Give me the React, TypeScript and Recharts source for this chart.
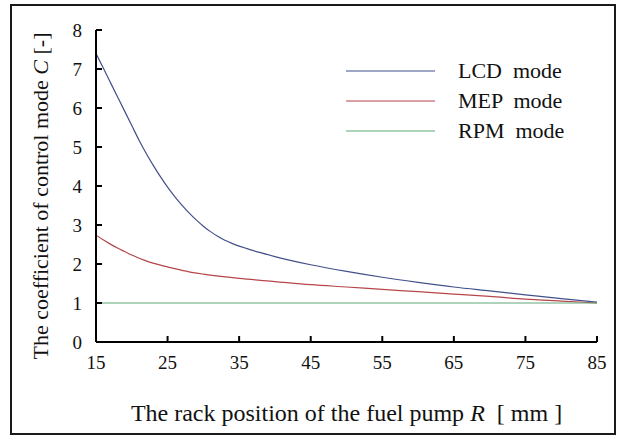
import { LineChart, Line, XAxis, YAxis, Legend } from 'recharts';

// rack position R [mm] and coefficient C
const lcdR = [15, 16, 17, 18, 19, 20, 21, 22, 23, 24, 25, 26, 27, 28, 29, 30, 31, 32, 33, 34, 35, 36, 38, 40, 42, 45, 50, 55, 60, 65, 70, 75, 80, 85];
const lcdC = [7.4, 7.03, 6.66, 6.29, 5.92, 5.55, 5.18, 4.84, 4.53, 4.24, 3.97, 3.73, 3.51, 3.31, 3.13, 2.97, 2.83, 2.71, 2.61, 2.53, 2.46, 2.4, 2.29, 2.19, 2.1, 1.98, 1.81, 1.66, 1.53, 1.41, 1.31, 1.21, 1.11, 1.02];

const mepR = [15, 16, 17, 18, 19, 20, 22, 24, 26, 28, 30, 35, 40, 45, 50, 55, 60, 65, 70, 75, 80, 85];
const mepC = [2.74, 2.62, 2.51, 2.41, 2.32, 2.23, 2.08, 1.97, 1.88, 1.8, 1.74, 1.63, 1.55, 1.47, 1.41, 1.35, 1.29, 1.23, 1.17, 1.1, 1.05, 1.0];

const rpmR = [15, 85];
const rpmC = [1, 1];

const xTicks = [15, 25, 35, 45, 55, 65, 75, 85];
const yTicks = [0, 1, 2, 3, 4, 5, 6, 7, 8];

const toRows = (xs: number[], ys: number[]) => xs.map((x, i) => ({ x, c: ys[i] }));

const FONT = '"Liberation Serif", "Times New Roman", serif';

const YTick = (props: any) => {
  const { x, y, payload } = props;
  return (
    <g>
      <line x1={x + 14} x2={x + 20} y1={y} y2={y} stroke="#000" strokeWidth={2} />
      <text x={x} y={y} dy="0.35em" textAnchor="end" fontSize={19} fontFamily={FONT} fill="#111">
        {payload.value}
      </text>
    </g>
  );
};

const XTick = (props: any) => {
  const { x, y, payload } = props;
  return (
    <g>
      <line x1={x} x2={x} y1={y - 12} y2={y - 18} stroke="#000" strokeWidth={2} />
      <text x={x} y={y + 15} textAnchor="middle" fontSize={19} fontFamily={FONT} fill="#111">
        {payload.value}
      </text>
    </g>
  );
};

const YTitle = (props: any) => {
  const vb = props.viewBox;
  const cx = vb.x + 4;
  const cy = vb.y + vb.height / 2 + 10;
  return (
    <text x={cx} y={cy} transform={`rotate(-90 ${cx} ${cy})`} textAnchor="middle" dy="0.35em"
      fontSize={22} fontFamily={FONT} fill="#111" style={{ whiteSpace: 'pre' }}>
      The coefficient of control mode <tspan fontStyle="italic">C</tspan> [-]
    </text>
  );
};

const XTitle = (props: any) => {
  const vb = props.viewBox;
  const cx = vb.x + vb.width / 2;
  const cy = vb.y + 79;
  return (
    <text x={cx} y={cy} textAnchor="middle" fontSize={24} fontFamily={FONT} fill="#111" style={{ whiteSpace: 'pre' }}>
      The rack position of the fuel pump <tspan fontStyle="italic">R</tspan>  [ mm ]
    </text>
  );
};

const LegendBox = (props: any) => {
  const items = props.payload || [];
  return (
    <div style={{ fontFamily: FONT, fontSize: 22, color: '#111' }}>
      {items.map((it: any) => (
        <div key={it.value} style={{ display: 'flex', alignItems: 'center', height: 30 }}>
          <svg width={89} height={4} style={{ display: 'block' }}>
            <line x1={0} x2={89} y1={2} y2={2} stroke={it.color} strokeWidth={1.2} />
          </svg>
          <span style={{ marginLeft: 23, whiteSpace: 'pre' }}>{it.value}</span>
        </div>
      ))}
    </div>
  );
};

export default function App() {
  return (
    <div style={{ position: 'absolute', left: 0, top: 0, width: 620, height: 437, background: '#fff' }}>
      <div style={{ position: 'absolute', left: 10, top: 4, width: 602, height: 427, border: '2px solid #1a1a1a' }} />
      <LineChart width={620} height={437} margin={{ top: 30, right: 23, bottom: 55, left: 36 }}>
        <XAxis
          type="number"
          dataKey="x"
          domain={[15, 85]}
          ticks={xTicks}
          allowDataOverflow
          height={40}
          tickSize={0}
          tickMargin={12}
          tickLine={false}
          tick={<XTick />}
          axisLine={{ stroke: '#000', strokeWidth: 2 }}
          label={<XTitle />}
        />
        <YAxis
          type="number"
          domain={[0, 8]}
          ticks={yTicks}
          width={60}
          tickSize={0}
          tickMargin={14}
          tickLine={false}
          tick={<YTick />}
          axisLine={{ stroke: '#000', strokeWidth: 2 }}
          label={<YTitle />}
        />
        <Legend
          layout="vertical"
          align="center"
          verticalAlign="middle"
          content={<LegendBox />}
          wrapperStyle={{ position: 'absolute', left: 346, top: 56, width: 240 }}
        />
        <Line data={toRows(lcdR, lcdC)} dataKey="c" name="LCD  mode" type="monotone" stroke="#42508a" strokeWidth={1.2} dot={false} isAnimationActive={false} />
        <Line data={toRows(mepR, mepC)} dataKey="c" name="MEP  mode" type="monotone" stroke="#b5464a" strokeWidth={1.2} dot={false} isAnimationActive={false} />
        <Line data={toRows(rpmR, rpmC)} dataKey="c" name="RPM  mode" type="monotone" stroke="#5fa777" strokeWidth={1.2} dot={false} isAnimationActive={false} />
      </LineChart>
    </div>
  );
}
